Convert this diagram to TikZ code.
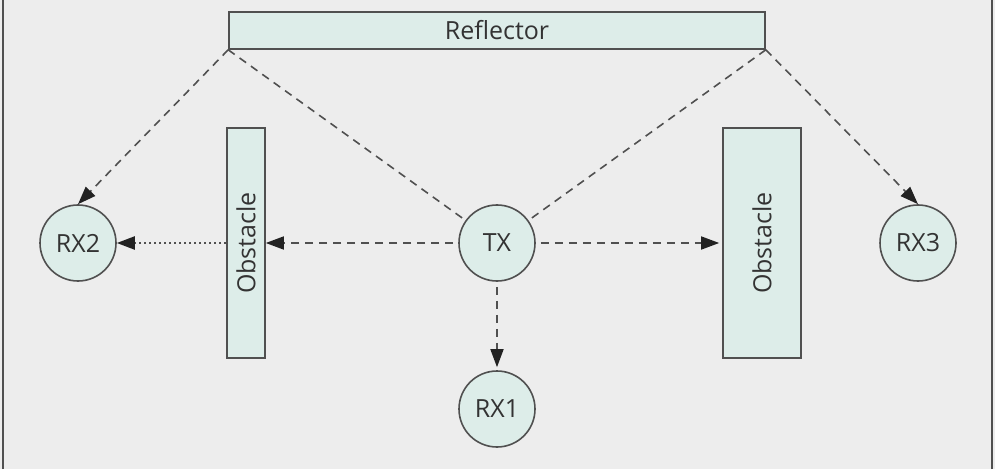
\documentclass[tikz,border=0pt]{standalone}
\usepackage{fontspec}
\setmainfont{Open Sans}
\usetikzlibrary{positioning,arrows.meta}
\definecolor{bggray}{HTML}{EDEDED}
\definecolor{boxfill}{HTML}{DDEDE9}
\definecolor{edgegray}{HTML}{505050}
\definecolor{inkgray}{HTML}{333333}
\definecolor{tipgray}{HTML}{222222}

\begin{document}
\begin{tikzpicture}[x=1pt, y=1pt, font=\fontsize{25}{30}\selectfont,
  block/.style={draw=edgegray, line width=1.6pt, fill=boxfill, text=inkgray, inner sep=0pt},
  station/.style={circle, draw=edgegray, line width=1.6pt, fill=boxfill, text=inkgray, minimum size=76pt, inner sep=0pt},
  ray/.style={draw=edgegray, line width=1.6pt, dash pattern=on 8pt off 6pt},
  weak/.style={draw=edgegray, line width=2.2pt, dash pattern=on 2.2pt off 2.8pt},
  arr/.style={-{Triangle[length=18pt,width=13pt,color=tipgray]}}]
  \useasboundingbox (0,0) rectangle (995,469);
  \fill[bggray] (0,0) rectangle (995,469);
  \draw[edgegray, line width=2pt] (3,0) -- (3,469);
  \draw[edgegray, line width=2pt] (992,0) -- (992,469);

  % reflector and obstacles
  \node[block, minimum width=536pt, minimum height=37pt] (refl) at (497,438.5) {Reflector};
  \node[block, minimum width=38pt, minimum height=230pt] (obsL) at (246,226) {\rotatebox{90}{Obstacle}};
  \node[block, minimum width=78pt, minimum height=230pt] (obsR) at (762,226) {\rotatebox{90}{Obstacle}};

  % stations
  \node[station] (tx)  at (497,226) {TX};
  \node[station] (rx2) at (78,226)  {RX2};
  \node[station] (rx3) at (918,226) {RX3};
  \node[station] (rx1) at (497,60)  {RX1};

  % paths
  \draw[ray] (refl.south west) -- (tx);
  \draw[ray] (refl.south east) -- (tx);
  \draw[ray, arr] (refl.south west) -- (rx2.north);
  \draw[ray, arr] (refl.south east) -- (rx3.north);
  \draw[ray, arr, shorten <=5pt] (tx) -- (obsL);
  \draw[weak, arr] (obsL) -- (rx2);
  \draw[ray, arr, shorten <=5pt, shorten >=3pt] (tx) -- (obsR);
  \draw[ray, arr, shorten <=5pt, shorten >=3pt] (tx) -- (rx1);
\end{tikzpicture}
\end{document}
